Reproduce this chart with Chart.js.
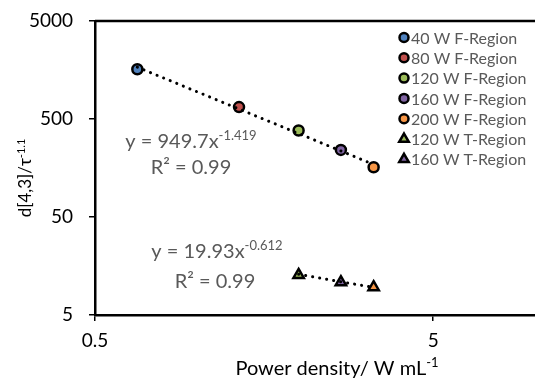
<!DOCTYPE html>
<html>
<head>
<meta charset="utf-8">
<script src="https://cdn.jsdelivr.net/npm/chart.js@4.4.0/dist/chart.umd.min.js"></script>
<style>
  html, body { margin: 0; padding: 0; background: #fff; }
  #wrap { width: 535px; height: 382px; }
</style>
</head>
<body>
<div id="wrap"><canvas id="chart" width="535" height="382"></canvas></div>
<script>
// values
const powerDensity = [0.667, 1.333, 2.0, 2.667, 3.333];
const fRegionNames = ['40 W F-Region', '80 W F-Region', '120 W F-Region', '160 W F-Region', '200 W F-Region'];
const fRegionValues = [1610, 662, 382, 242, 161];
const tRegionNames = ['120 W T-Region', '160 W T-Region', '200 W T-Region'];
const tPowerDensity = [2.0, 2.667, 3.333];
const tRegionValues = [12.8, 10.8, 9.6];
const fTrendX = [0.667, 3.333];
const fTrendY = [1690, 172];
const tTrendX = [2.0, 3.333];
const tTrendY = [13.0, 9.55];
const xTicks = [0.5, 5];
const yTicks = [5, 50, 500, 5000];

const colors = ['#4F81BD', '#C0504D', '#9BBB59', '#8064A2', '#F79646'];
const tColors = ['#9BBB59', '#8064A2', '#F79646'];
const FONT = 'Lato, "Open Sans", sans-serif';

const datasets = [];
fRegionNames.forEach(function(name, i) {
    datasets.push({
        label: name,
        data: [{ x: powerDensity[i], y: fRegionValues[i] }],
        pointStyle: 'circle',
        pointRadius: 5,
        backgroundColor: colors[i],
        borderColor: '#000',
        borderWidth: 2.5,
        showInLegend: true,
        order: 1
    });
});
tRegionNames.forEach(function(name, i) {
    datasets.push({
        label: name,
        data: [{ x: tPowerDensity[i], y: tRegionValues[i] }],
        pointStyle: 'triangle',
        pointRadius: 6,
        backgroundColor: tColors[i],
        borderColor: '#000',
        borderWidth: 2.5,
        showInLegend: i < 2,
        order: 1
    });
});
// dotted power trendlines
[[fTrendX, fTrendY], [tTrendX, tTrendY]].forEach(function(t) {
    datasets.push({
        label: 'trend',
        type: 'line',
        data: t[0].map(function(x, i) { return { x: x, y: t[1][i] }; }),
        borderColor: '#000',
        borderWidth: 3,
        borderDash: [0.1, 7],
        borderCapStyle: 'round',
        pointRadius: 0,
        fill: false,
        showInLegend: false,
        order: 0
    });
});

// text with a superscript part, centred on x
function supText(ctx, base, sup, x, y, size, color) {
    ctx.save();
    ctx.fillStyle = color;
    ctx.textBaseline = 'alphabetic';
    ctx.textAlign = 'left';
    ctx.font = size + 'px ' + FONT;
    const wb = ctx.measureText(base).width;
    const supSize = Math.round(size * 0.65);
    ctx.font = supSize + 'px ' + FONT;
    const ws = ctx.measureText(sup).width;
    const left = x - (wb + ws) / 2;
    ctx.font = size + 'px ' + FONT;
    ctx.fillText(base, left, y);
    ctx.font = supSize + 'px ' + FONT;
    ctx.fillText(sup, left + wb, y - size * 0.38);
    ctx.restore();
}

const extras = {
    id: 'extras',
    afterDraw: function(chart) {
        const ctx = chart.ctx;
        const area = chart.chartArea;
        // top frame line
        ctx.save();
        ctx.strokeStyle = '#000';
        ctx.lineWidth = 2.5;
        ctx.beginPath();
        ctx.moveTo(area.left, area.top);
        ctx.lineTo(535, area.top);
        ctx.stroke();
        ctx.restore();

        // legend
        let row = 0;
        chart.data.datasets.forEach(function(ds) {
            if (!ds.showInLegend) return;
            const y = 37.5 + row * 20.3;
            ctx.save();
            ctx.fillStyle = ds.backgroundColor;
            ctx.strokeStyle = '#000';
            ctx.lineWidth = 2.5;
            Chart.helpers.drawPoint(ctx, { pointStyle: ds.pointStyle, radius: ds.pointStyle === 'circle' ? 4.5 : 5.5, rotation: 0, borderWidth: 2.5 }, 404, y);
            ctx.fillStyle = '#595959';
            ctx.font = '16px ' + FONT;
            ctx.textBaseline = 'middle';
            ctx.fillText(ds.label, 411, y + 1);
            ctx.restore();
            row++;
        });

        // trendline equations
        supText(ctx, 'y = 949.7x', '-1.419', 191, 148, 20, '#595959');
        supText(ctx, 'R\u00B2 = 0.99', '', 191, 174, 20, '#595959');
        supText(ctx, 'y = 19.93x', '-0.612', 217, 258, 20, '#595959');
        supText(ctx, 'R\u00B2 = 0.99', '', 215, 288, 20, '#595959');

        // axis titles
        supText(ctx, 'Power density/ W mL', '-1', 337, 375, 20, '#000');
        ctx.save();
        ctx.translate(31, 178);
        ctx.rotate(-Math.PI / 2);
        supText(ctx, 'd[4,3]/\u03C4', '-1.1', 0, 0, 17, '#000');
        ctx.restore();
    }
};

new Chart(document.getElementById('chart'), {
    type: 'scatter',
    data: { datasets: datasets },
    options: {
        responsive: false,
        animation: false,
        layout: { autoPadding: false, padding: { top: 21, right: 0, left: 0, bottom: 0 } },
        plugins: { legend: { display: false }, tooltip: { enabled: false } },
        scales: {
            x: {
                type: 'logarithmic',
                min: 0.5,
                max: 10,
                afterBuildTicks: function(s) { s.ticks = xTicks.map(function(v) { return { value: v }; }); },
                afterFit: function(s) {
                    s.height = 67;
                    s.paddingLeft = 0; s.paddingRight = 0; s.paddingTop = 0; s.paddingBottom = 0;
                },
                ticks: {
                    autoSkip: false,
                    maxRotation: 0,
                    padding: 8,
                    color: '#000',
                    font: { family: FONT, size: 19 },
                    callback: function(v) { return String(v); }
                },
                grid: { drawOnChartArea: false, tickLength: 6, color: '#000', lineWidth: 1.5 },
                border: { color: '#000', width: 2.5 }
            },
            y: {
                type: 'logarithmic',
                min: 5,
                max: 5000,
                afterBuildTicks: function(s) { s.ticks = yTicks.map(function(v) { return { value: v }; }); },
                afterFit: function(s) {
                    s.width = 95;
                    s.paddingLeft = 0; s.paddingRight = 0; s.paddingTop = 0; s.paddingBottom = 0;
                },
                ticks: {
                    autoSkip: false,
                    padding: 16,
                    color: '#000',
                    font: { family: FONT, size: 19 },
                    callback: function(v) { return String(v); }
                },
                grid: { drawOnChartArea: false, tickLength: 6, color: '#000', lineWidth: 1.5 },
                border: { color: '#000', width: 2.5 }
            }
        }
    },
    plugins: [extras]
});
</script>
</body>
</html>
